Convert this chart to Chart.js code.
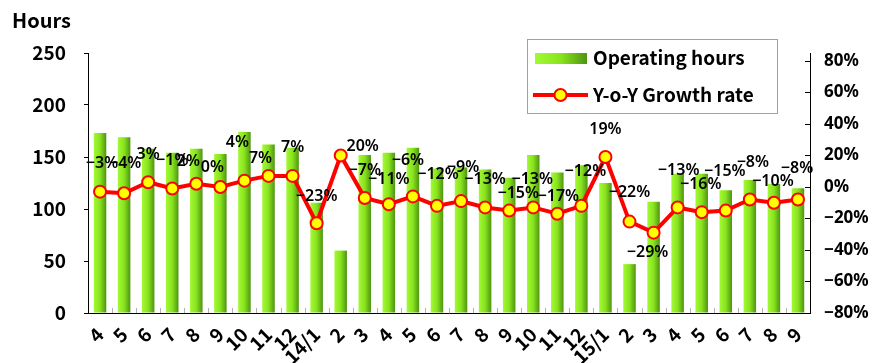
<!DOCTYPE html>
<html>
<head>
<meta charset="utf-8">
<script src="https://cdn.jsdelivr.net/npm/chart.js@4.4.1/dist/chart.umd.min.js"></script>
<style>
  html, body { margin: 0; padding: 0; background: #fff; }
  #wrap { width: 872px; height: 363px; }
</style>
</head>
<body>
<div id="wrap"><canvas id="c" width="872" height="363"></canvas></div>
<script>
// Monthly categories (Apr 2013 - Sep 2015)
const months = ['4','5','6','7','8','9','10','11','12','14/1','2','3',
                '4','5','6','7','8','9','10','11','12','15/1','2','3',
                '4','5','6','7','8','9'];

// Operating hours per month
const operatingHours = [173,169,158,154,158,153,174,162,159,106,60,152,
                        154,159,139,140,138,130,152,135,142,125,47,107,
                        134,134,118,128,124,120];

// Year-over-year growth rate (%)
const growthRate = [-3,-4,3,-1,2,0,4,7,7,-23,20,-7,
                    -11,-6,-12,-9,-13,-15,-13,-17,-12,19,-22,-29,
                    -13,-16,-15,-8,-10,-8];

// Axis tick values
const hoursTicks = [0,50,100,150,200,250];
const rateTicks = [-80,-60,-40,-20,0,20,40,60,80];

// Where each growth-rate label sits relative to its point, in px [dx, dy]
const labelShift = [[2,-28],[1,-30],[0,-28],[0,-28],[-8,-22],[-8,-20],[-7,-38],[-8,-17],[0,-28],[0,-27],
                    [22,-9],[0,-28],[0,-25],[-5,-36],[1,-31],[2,-34],[0,-28],[9,-17],[-1,-28],[1,-17],
                    [4,-34],[0,-28],[0,-29],[-6,20],[1,-37],[-1,-28],[-1,-39],[3,-37],[-1,-21],[-1,-31]];

const FONT = '"Noto Sans CJK JP", "Noto Sans", sans-serif';
const LABEL_FONT = '"Noto Sans", sans-serif';
const BAR_PCT = 0.52;

// percent text with a proper minus sign
const pct = v => (v < 0 ? '\u2212' + Math.abs(v) : String(v)) + '%';

function barGradient(ctx2d, x0, x1) {
  const g = ctx2d.createLinearGradient(x0, 0, x1, 0);
  g.addColorStop(0, '#a2fa34');
  g.addColorStop(0.5, '#88e31e');
  g.addColorStop(1, '#4e9412');
  return g;
}

// Axis title, legend, tick marks and growth-rate labels
const decorations = {
  id: 'decorations',
  beforeDatasetsDraw(chart) {
    const { ctx, chartArea: a, scales } = chart;
    ctx.save();
    // category separator ticks along the bottom axis
    const step = (a.right - a.left) / months.length;
    ctx.strokeStyle = '#b0b0b0';
    ctx.lineWidth = 1;
    for (let k = 1; k < months.length; k++) {
      const x = Math.round(a.left + k * step) + 0.5;
      ctx.beginPath(); ctx.moveTo(x, a.bottom - 5); ctx.lineTo(x, a.bottom); ctx.stroke();
    }
    // inward ticks on the right axis
    ctx.strokeStyle = '#000';
    rateTicks.forEach(v => {
      const y = Math.round(scales.y1.getPixelForValue(v)) + 0.5;
      ctx.beginPath(); ctx.moveTo(a.right - 5, y); ctx.lineTo(a.right, y); ctx.stroke();
    });
    ctx.restore();
  },
  afterDatasetsDraw(chart) {
    const { ctx } = chart;
    const meta = chart.getDatasetMeta(1);
    ctx.save();
    ctx.font = '600 16px ' + LABEL_FONT;
    ctx.fillStyle = '#000';
    ctx.textAlign = 'center';
    ctx.textBaseline = 'middle';
    meta.data.forEach((pt, i) => {
      const [dx, dy] = labelShift[i];
      ctx.fillText(pct(growthRate[i]), pt.x + dx, pt.y + dy);
    });
    ctx.restore();
  },
  afterDraw(chart) {
    const { ctx } = chart;
    ctx.save();
    // left axis title
    ctx.font = 'bold 20px ' + FONT;
    ctx.fillStyle = '#000';
    ctx.textAlign = 'left';
    ctx.textBaseline = 'middle';
    ctx.fillText('Hours', 12, 20);

    // legend box
    const bx = 527, by = 39, bw = 250, bh = 74;
    ctx.fillStyle = '#fff';
    ctx.fillRect(bx, by, bw, bh);
    ctx.strokeStyle = '#a0a0a0';
    ctx.lineWidth = 1;
    ctx.strokeRect(bx + 0.5, by + 0.5, bw, bh);

    const ds = chart.data.datasets;
    // bar swatch
    ctx.fillStyle = barGradient(ctx, 535, 587);
    ctx.fillRect(535, 53, 52, 11);
    // line swatch with marker
    ctx.strokeStyle = '#ff0000';
    ctx.lineWidth = 4;
    ctx.beginPath(); ctx.moveTo(533, 95); ctx.lineTo(588, 95); ctx.stroke();
    ctx.beginPath(); ctx.arc(560.5, 95, 6, 0, Math.PI * 2);
    ctx.fillStyle = '#ffff00'; ctx.fill();
    ctx.lineWidth = 2; ctx.stroke();

    ctx.fillStyle = '#000';
    ctx.font = 'bold 19px ' + FONT;
    ctx.textBaseline = 'middle';
    ctx.fillText(ds[0].label, 593, 58);
    ctx.fillText(ds[1].label, 593, 95);
    ctx.restore();
  }
};

new Chart(document.getElementById('c'), {
  data: {
    labels: months,
    datasets: [
      {
        type: 'bar',
        label: 'Operating hours',
        data: operatingHours,
        yAxisID: 'y',
        order: 2,
        categoryPercentage: 1,
        barPercentage: BAR_PCT,
        backgroundColor(c) {
          const chart = c.chart, a = chart.chartArea;
          if (c.type !== 'data' || !a || !chart.scales.x) return '#88e31e';
          const cx = chart.scales.x.getPixelForValue(c.dataIndex);
          const w = (a.right - a.left) / months.length * BAR_PCT;
          return barGradient(chart.ctx, cx - w / 2, cx + w / 2);
        },
        borderWidth: 0
      },
      {
        type: 'line',
        label: 'Y-o-Y Growth rate',
        data: growthRate,
        yAxisID: 'y1',
        order: 1,
        borderColor: '#ff0000',
        borderWidth: 4,
        tension: 0,
        pointRadius: 6,
        pointBackgroundColor: '#ffff00',
        pointBorderColor: '#ff0000',
        pointBorderWidth: 2
      }
    ]
  },
  options: {
    responsive: false,
    animation: false,
    devicePixelRatio: 1,
    layout: { padding: { top: 53, left: 0, right: 0, bottom: 0 } },
    plugins: { legend: { display: false }, tooltip: { enabled: false } },
    scales: {
      x: {
        grid: { display: false },
        border: { display: true, color: '#000', width: 1 },
        ticks: {
          color: '#000',
          font: { family: FONT, size: 19, weight: 'bold' },
          minRotation: 45, maxRotation: 45,
          autoSkip: false,
          padding: 2
        },
        afterFit(s) { s.height = 50; }
      },
      y: {
        position: 'left',
        min: 0, max: 250,
        afterBuildTicks(s) { s.ticks = hoursTicks.map(v => ({ value: v })); },
        grid: { drawOnChartArea: false, tickLength: 4, color: '#000' },
        border: { display: true, color: '#000', width: 1 },
        ticks: {
          color: '#000',
          font: { family: FONT, size: 19, weight: 'bold' },
          padding: 18
        },
        afterFit(s) { s.width = 88; }
      },
      y1: {
        position: 'right',
        min: -80, max: 85,
        afterBuildTicks(s) { s.ticks = rateTicks.map(v => ({ value: v })); },
        grid: { drawOnChartArea: false, drawTicks: false },
        border: { display: true, color: '#000', width: 1 },
        ticks: {
          color: '#000',
          font: { family: LABEL_FONT, size: 17, weight: 'bold' },
          padding: 14,
          callback: v => pct(v)
        },
        afterFit(s) { s.width = 62; }
      }
    }
  },
  plugins: [decorations]
});
</script>
</body>
</html>
